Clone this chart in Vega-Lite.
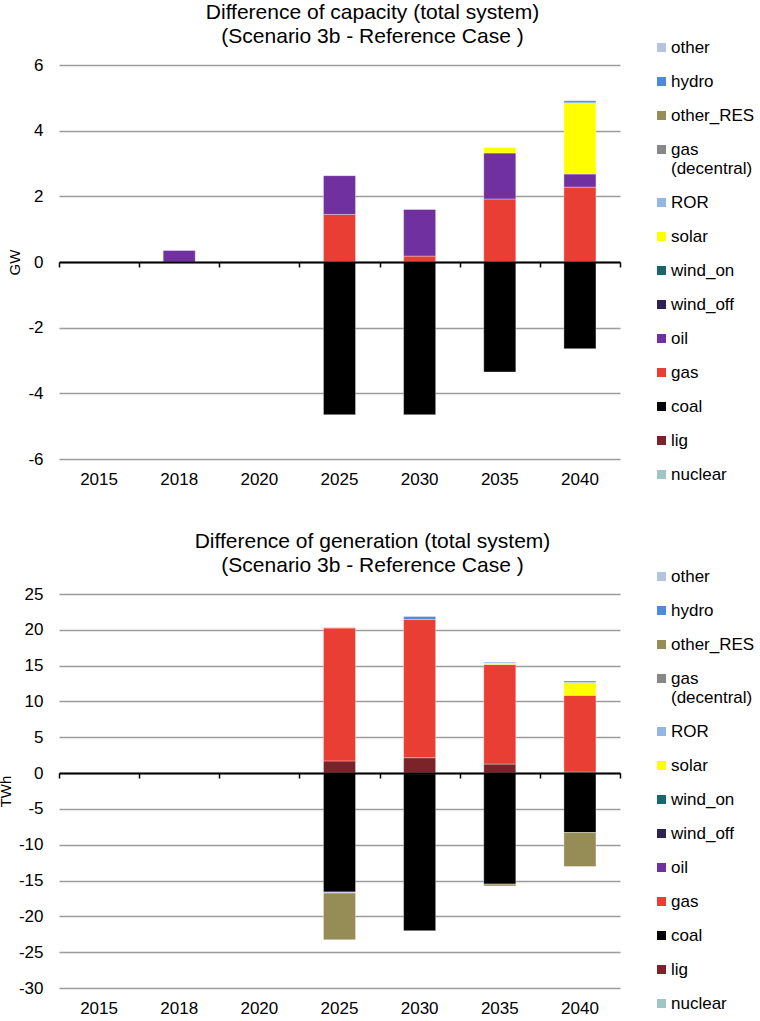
{
  "$schema": "https://vega.github.io/schema/vega-lite/v6.json",
  "background": "white",
  "padding": {"left": -2, "top": 2, "right": 0, "bottom": 0},
  "config": {
    "font": "Liberation Sans",
    "view": {"stroke": null},
    "axis": {"labelFont": "Liberation Sans", "titleFont": "Liberation Sans", "labelColor": "#000000", "titleColor": "#000000", "titleFontWeight": "normal"},
    "legend": {"labelFont": "Liberation Sans", "labelColor": "#000000"},
    "title": {"font": "Liberation Sans", "fontWeight": "normal", "color": "#000000"}
  },
  "datasets": {
    "cap": [
      {"year": "2018", "tech": "oil", "n": 8, "value": 0.35},
      {"year": "2025", "tech": "gas", "n": 3, "value": 1.45},
      {"year": "2025", "tech": "oil", "n": 4, "value": 1.18},
      {"year": "2025", "tech": "coal", "n": 2, "value": -4.65},
      {"year": "2030", "tech": "gas", "n": 3, "value": 0.18},
      {"year": "2030", "tech": "oil", "n": 4, "value": 1.42},
      {"year": "2030", "tech": "coal", "n": 2, "value": -4.65},
      {"year": "2035", "tech": "gas", "n": 3, "value": 1.92},
      {"year": "2035", "tech": "oil", "n": 4, "value": 1.4},
      {"year": "2035", "tech": "solar", "n": 7, "value": 0.17},
      {"year": "2035", "tech": "coal", "n": 2, "value": -3.35},
      {"year": "2040", "tech": "gas", "n": 3, "value": 2.28},
      {"year": "2040", "tech": "oil", "n": 4, "value": 0.4},
      {"year": "2040", "tech": "solar", "n": 7, "value": 2.17},
      {"year": "2040", "tech": "hydro", "n": 11, "value": 0.06},
      {"year": "2040", "tech": "coal", "n": 2, "value": -2.64}
    ],
    "gen": [
      {"year": "2025", "tech": "lig", "n": 1, "value": 1.7},
      {"year": "2025", "tech": "gas", "n": 3, "value": 18.55},
      {"year": "2025", "tech": "other", "n": 12, "value": 0.1},
      {"year": "2025", "tech": "coal", "n": 2, "value": -16.6},
      {"year": "2025", "tech": "other_RES", "n": 10, "value": -6.55},
      {"year": "2025", "tech": "ROR", "n": 8, "value": -0.12},
      {"year": "2030", "tech": "lig", "n": 1, "value": 2.15},
      {"year": "2030", "tech": "gas", "n": 3, "value": 19.3},
      {"year": "2030", "tech": "hydro", "n": 11, "value": 0.4},
      {"year": "2030", "tech": "nuclear", "n": 0, "value": -0.1},
      {"year": "2030", "tech": "coal", "n": 2, "value": -21.9},
      {"year": "2035", "tech": "lig", "n": 1, "value": 1.26},
      {"year": "2035", "tech": "gas", "n": 3, "value": 13.9},
      {"year": "2035", "tech": "solar", "n": 7, "value": 0.2},
      {"year": "2035", "tech": "ROR", "n": 8, "value": 0.15},
      {"year": "2035", "tech": "coal", "n": 2, "value": -15.5},
      {"year": "2035", "tech": "other_RES", "n": 10, "value": -0.25},
      {"year": "2040", "tech": "lig", "n": 1, "value": 0.15},
      {"year": "2040", "tech": "gas", "n": 3, "value": 10.7},
      {"year": "2040", "tech": "solar", "n": 7, "value": 1.8},
      {"year": "2040", "tech": "hydro", "n": 11, "value": 0.2},
      {"year": "2040", "tech": "coal", "n": 2, "value": -8.3},
      {"year": "2040", "tech": "other_RES", "n": 10, "value": -4.75}
    ]
  },
  "bounds": "flush",
  "spacing": 135,
  "resolve": {"legend": {"color": "independent"}},
  "vconcat": [
    {
      "width": 561,
      "height": 394,
      "title": {"text": ["Difference of capacity (total system)", "(Scenario 3b - Reference Case )"], "fontSize": 21, "lineHeight": 24, "anchor": "middle", "frame": "group", "dx": 33, "offset": -8},
      "data": {"name": "cap"},
      "resolve": {"scale": {"x": "independent"}, "axis": {"x": "independent", "y": "independent"}},
      "layer": [
        {
          "mark": {"type": "bar", "stroke": "#ffffff", "strokeOpacity": 0.35, "strokeWidth": 1},
          "encoding": {
            "x": {"field": "year", "type": "nominal", "scale": {"domain": ["2015", "2018", "2020", "2025", "2030", "2035", "2040"], "paddingInner": 0.6, "paddingOuter": 0.3},
              "axis": {"orient": "bottom", "title": null, "domain": false, "ticks": false, "labelAngle": 0, "labelFontSize": 17, "labelPadding": 12}},
            "y": {"field": "value", "type": "quantitative", "stack": "zero", "scale": {"domain": [-6, 6], "nice": false},
              "axis": {"title": "GW", "titleFontSize": 15, "titleX": -45, "titleBaseline": "middle", "values": [-6, -4, -2, 0, 2, 4, 6], "labelExpr": "toString(datum.value)", "domain": false, "ticks": false, "labelFontSize": 17, "labelPadding": 16, "gridColor": "#9c9c9c", "gridWidth": 1.6}},
            "color": {"field": "tech", "type": "nominal",
              "scale": {"domain": ["other", "hydro", "other_RES", "gas (decentral)", "ROR", "solar", "wind_on", "wind_off", "oil", "gas", "coal", "lig", "nuclear"],
                "range": ["#b4c3e0", "#4d8bd6", "#968c55", "#878787", "#93b6e4", "#ffff00", "#17686c", "#2d2350", "#7030a0", "#e83e33", "#000000", "#7b2329", "#9fc5c5"]},
              "legend": {"title": null, "orient": "none", "legendX": 594, "legendY": -26, "symbolType": "square", "symbolSize": 81, "symbolStrokeWidth": 0, "labelFontSize": 17, "rowPadding": 16, "labelOffset": 1, "clipHeight": 17,
                "labelExpr": "datum.label == 'gas (decentral)' ? ['gas', '(decentral)'] : datum.label"}},
            "order": {"field": "n", "type": "quantitative", "sort": "ascending"}
          }
        },
        {
          "mark": {"type": "point", "opacity": 0},
          "encoding": {
            "x": {"field": "year", "type": "nominal", "scale": {"domain": ["2015", "2018", "2020", "2025", "2030", "2035", "2040"], "paddingInner": 0, "paddingOuter": 0},
              "axis": {"orient": "bottom", "offset": -197, "title": null, "labels": false, "grid": false, "domain": true, "domainColor": "#000000", "domainWidth": 2, "ticks": true, "tickColor": "#000000", "tickWidth": 1.5, "tickSize": 5, "tickBand": "extent", "zindex": 2}},
            "y": {"datum": 0, "type": "quantitative", "axis": null}
          }
        }
      ]
    },
    {
      "width": 561,
      "height": 394,
      "title": {"text": ["Difference of generation (total system)", "(Scenario 3b - Reference Case )"], "fontSize": 21, "lineHeight": 24, "anchor": "middle", "frame": "group", "dx": 33, "offset": -8},
      "data": {"name": "gen"},
      "resolve": {"scale": {"x": "independent"}, "axis": {"x": "independent", "y": "independent"}},
      "layer": [
        {
          "mark": {"type": "bar", "stroke": "#ffffff", "strokeOpacity": 0.35, "strokeWidth": 1},
          "encoding": {
            "x": {"field": "year", "type": "nominal", "scale": {"domain": ["2015", "2018", "2020", "2025", "2030", "2035", "2040"], "paddingInner": 0.6, "paddingOuter": 0.3},
              "axis": {"orient": "bottom", "title": null, "domain": false, "ticks": false, "labelAngle": 0, "labelFontSize": 17, "labelPadding": 12}},
            "y": {"field": "value", "type": "quantitative", "stack": "zero", "scale": {"domain": [-30, 25], "nice": false},
              "axis": {"title": "TWh", "titleFontSize": 15, "titleX": -54, "titleBaseline": "middle", "values": [-30, -25, -20, -15, -10, -5, 0, 5, 10, 15, 20, 25], "labelExpr": "toString(datum.value)", "domain": false, "ticks": false, "labelFontSize": 17, "labelPadding": 16, "gridColor": "#9c9c9c", "gridWidth": 1.6}},
            "color": {"field": "tech", "type": "nominal",
              "scale": {"domain": ["other", "hydro", "other_RES", "gas (decentral)", "ROR", "solar", "wind_on", "wind_off", "oil", "gas", "coal", "lig", "nuclear"],
                "range": ["#b4c3e0", "#4d8bd6", "#968c55", "#878787", "#93b6e4", "#ffff00", "#17686c", "#2d2350", "#7030a0", "#e83e33", "#000000", "#7b2329", "#9fc5c5"]},
              "legend": {"title": null, "orient": "none", "legendX": 594, "legendY": -26, "symbolType": "square", "symbolSize": 81, "symbolStrokeWidth": 0, "labelFontSize": 17, "rowPadding": 16, "labelOffset": 1, "clipHeight": 17,
                "labelExpr": "datum.label == 'gas (decentral)' ? ['gas', '(decentral)'] : datum.label"}},
            "order": {"field": "n", "type": "quantitative", "sort": "ascending"}
          }
        },
        {
          "mark": {"type": "point", "opacity": 0},
          "encoding": {
            "x": {"field": "year", "type": "nominal", "scale": {"domain": ["2015", "2018", "2020", "2025", "2030", "2035", "2040"], "paddingInner": 0, "paddingOuter": 0},
              "axis": {"orient": "bottom", "offset": -215, "title": null, "labels": false, "grid": false, "domain": true, "domainColor": "#000000", "domainWidth": 2, "ticks": true, "tickColor": "#000000", "tickWidth": 1.5, "tickSize": 5, "tickBand": "extent", "zindex": 2}},
            "y": {"datum": 0, "type": "quantitative", "axis": null}
          }
        }
      ]
    }
  ]
}
